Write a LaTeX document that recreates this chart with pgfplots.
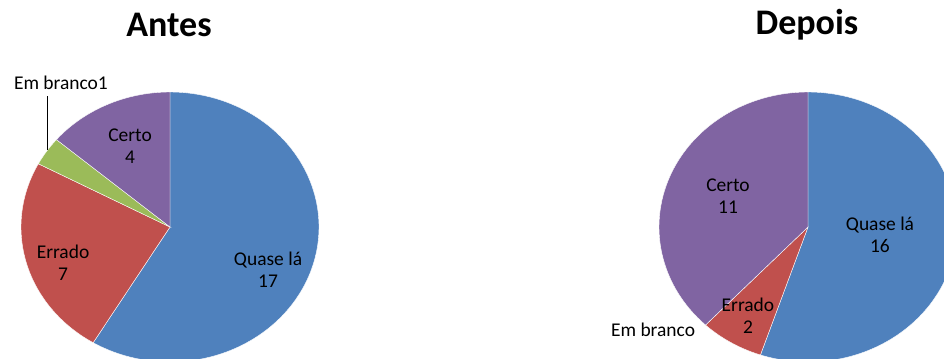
\documentclass[border=0pt]{standalone}
\usepackage{fontspec}
\setmainfont{Carlito}
\usepackage{pgfplots}
\usepackage{pgfplotstable}
\pgfplotsset{compat=1.18}

\definecolor{cQuase}{HTML}{4F81BD}
\definecolor{cErrado}{HTML}{C0504D}
\definecolor{cBranco}{HTML}{9BBB59}
\definecolor{cCerto}{HTML}{8064A2}

\pgfplotstableread{
categoria n
Quase 17
Errado 7
Branco 1
Certo 4
}\antes
\pgfplotstableread{
categoria n
Quase 16
Errado 2
Branco 0
Certo 11
}\depois

\pgfplotstablegetelem{0}{n}\of\antes \edef\AQ{\pgfplotsretval}
\pgfplotstablegetelem{1}{n}\of\antes \edef\AE{\pgfplotsretval}
\pgfplotstablegetelem{2}{n}\of\antes \edef\AB{\pgfplotsretval}
\pgfplotstablegetelem{3}{n}\of\antes \edef\AC{\pgfplotsretval}
\pgfmathsetmacro\AT{\AQ+\AE+\AB+\AC}
\pgfmathsetmacro\Aa{90-360*\AQ/\AT}
\pgfmathsetmacro\Ab{\Aa-360*\AE/\AT}
\pgfmathsetmacro\Ac{\Ab-360*\AB/\AT}

\pgfplotstablegetelem{0}{n}\of\depois \edef\DQ{\pgfplotsretval}
\pgfplotstablegetelem{1}{n}\of\depois \edef\DE{\pgfplotsretval}
\pgfplotstablegetelem{2}{n}\of\depois \edef\DB{\pgfplotsretval}
\pgfplotstablegetelem{3}{n}\of\depois \edef\DC{\pgfplotsretval}
\pgfmathsetmacro\DT{\DQ+\DE+\DB+\DC}
\pgfmathsetmacro\Da{90-360*\DQ/\DT}
\pgfmathsetmacro\Db{\Da-360*\DE/\DT}
\pgfmathsetmacro\Dc{\Db-360*\DB/\DT}

\newcommand\slice[3]{%
  \addplot[fill=#3, draw=white, line width=0.3pt, domain=#1:#2, samples=120, variable=\t]
    ({cos(t)},{sin(t)}) -- (axis cs:0,0) -- cycle;}

\pgfplotsset{pie/.style={scale only axis, width=223.5pt, height=202.5pt,
  xmin=-1, xmax=1, ymin=-1, ymax=1, hide axis, clip=false, anchor=center}}
\tikzset{lab/.style={align=center, text=black, font=\fontsize{14.6pt}{16.5pt}\selectfont},
  ttl/.style={font=\fontsize{27pt}{30pt}\selectfont\bfseries, text=black}}

\begin{document}
\begin{tikzpicture}
\useasboundingbox (0,0) rectangle (708pt,268.5pt);
\clip (0,0) rectangle (708pt,268.5pt);

\begin{axis}[pie, at={(127.5pt,98.25pt)}]
  \slice{\Aa}{90}{cQuase}
  \slice{\Ab}{\Aa}{cErrado}
  \slice{\Ac}{\Ab}{cBranco}
  \slice{-270}{\Ac}{cCerto}
  \node[ttl] at (axis cs:-0.007,1.496) {Antes};
  \node[lab] at (axis cs:-0.268,0.60) {Certo\\4};
  \node[lab] at (axis cs:-0.718,-0.267) {Errado\\7};
  \node[lab] at (axis cs:0.658,-0.319) {Quase lá\\17};
  \node[lab] at (axis cs:-0.732,1.067) {Em branco1};
  \draw[black, line width=0.75pt] (axis cs:-0.819,0.97) -- (axis cs:-0.819,0.57);
\end{axis}

\begin{axis}[pie, at={(606pt,98.25pt)}]
  \slice{\Da}{90}{cQuase}
  \slice{\Db}{\Da}{cErrado}
  \slice{-270}{\Dc}{cCerto}
  \node[ttl] at (axis cs:-0.007,1.496) {Depois};
  \node[lab] at (axis cs:-0.537,0.230) {Certo\\11};
  \node[lab] at (axis cs:0.483,-0.059) {Quase lá\\16};
  \node[lab] at (axis cs:-0.403,-0.659) {Errado\\2};
  \node[lab] at (axis cs:-1.040,-0.763) {Em branco};
\end{axis}
\end{tikzpicture}
\end{document}
